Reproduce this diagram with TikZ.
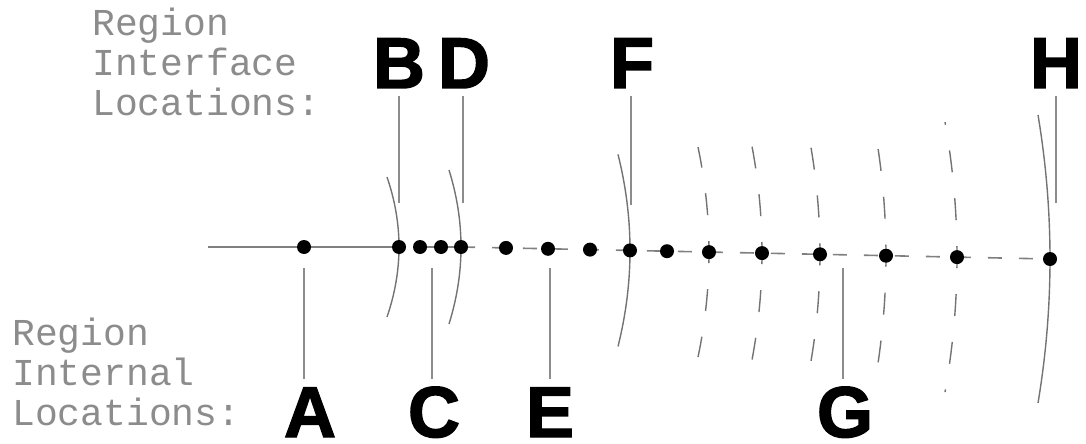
\documentclass[tikz,border=0pt]{standalone}
\usepackage{fontspec}
\newfontfamily\labelfont[FakeBold=2]{Liberation Sans Bold}
\newfontfamily\cadfont{Liberation Mono}
\newcommand\bulgearc[5]{%
  \draw[#5] (#1,#2) .. controls (#1,{#2-#3/3}) and ({#1-#4/3},{#2-2*#3/3}) .. ({#1-#4},{#2-#3});
  \draw[#5] (#1,#2) .. controls (#1,{#2+#3/3}) and ({#1-#4/3},{#2+2*#3/3}) .. ({#1-#4},{#2+#3});
}
\tikzset{
  dot/.style={circle,fill=black,inner sep=0pt,minimum size=14pt},
  mainsolid/.style={line width=1.6pt,draw=black!50},
  maindash/.style={line width=1.6pt,draw=black!50,dash pattern=on 14pt off 17pt},
  arcsolid/.style={line width=1.4pt,draw=black!55},
  arcdash/.style={line width=1.4pt,draw=black!55,dash pattern=on 22pt off 26pt,dash phase=11pt},
  lead/.style={line width=2pt,draw=black!45},
  letter/.style={font=\labelfont\fontsize{72}{72}\selectfont,inner sep=0pt,outer sep=8pt,anchor=base},
  cadtext/.style={font=\cadfont\fontsize{38}{40}\selectfont,text=black!45,align=left,inner sep=0pt,anchor=base west},
}
\begin{document}
\begin{tikzpicture}[x=1pt,y=-1pt]
\useasboundingbox (0,0) rectangle (1086,444);
% dot positions
\coordinate (p0) at (208,247);
\coordinate (p1) at (304,247);
\coordinate (p2) at (399,247);
\coordinate (p3) at (420,247);
\coordinate (p4) at (441,247);
\coordinate (p5) at (461,247);
\coordinate (p6) at (506,247.9);
\coordinate (p7) at (548,248.8);
\coordinate (p8) at (590,249.6);
\coordinate (p9) at (630,250.4);
\coordinate (p10) at (667,251.2);
\coordinate (p11) at (709,252.1);
\coordinate (p12) at (762,253.1);
\coordinate (p13) at (820,254.3);
\coordinate (p14) at (886,255.7);
\coordinate (p15) at (957,257.1);
\coordinate (p16) at (1050,259);
% main line
\draw[mainsolid] (p0) -- (p2);
\draw[mainsolid] (p3) -- (p5);
\draw[maindash] (p5) -- (p16);
% interface arcs
\bulgearc{399}{247}{70}{12}{arcsolid}
\bulgearc{461}{247}{77}{12}{arcsolid}
\bulgearc{630}{250.4}{96}{12}{arcsolid}
\bulgearc{709}{252.1}{105}{11}{arcdash}
\bulgearc{762}{253.1}{112}{11}{arcdash}
\bulgearc{820}{254.3}{118}{11}{arcdash}
\bulgearc{886}{255.7}{126}{11}{arcdash}
\bulgearc{957}{257.1}{135}{12}{arcdash}
\bulgearc{1050}{259}{144}{12}{arcsolid}
% dots
\foreach \i in {1,...,16} \node[dot] (d\i) at (p\i) {};
% labels
\node[letter] (lB) at (399,88) {B};
\node[letter] (lD) at (464,88) {D};
\node[letter] (lF) at (632,88) {F};
\node[letter] (lH) at (1056,88) {H};
\node[letter] (lA) at (310,437) {A};
\node[letter] (lC) at (434,437) {C};
\node[letter] (lE) at (550,437) {E};
\node[letter] (lG) at (845,437) {G};
% leader ends
\coordinate (eB) at (399,203);
\coordinate (eD) at (463,203);
\coordinate (eF) at (631,205);
\coordinate (eH) at (1056,203);
\coordinate (eA) at (304,268);
\coordinate (eC) at (432,268);
\coordinate (eE) at (550,268);
\coordinate (eG) at (843,268);
\draw[lead] (eB |- lB.south) -- (eB);
\draw[lead] (eD |- lD.south) -- (eD);
\draw[lead] (eF |- lF.south) -- (eF);
\draw[lead] (eH |- lH.south) -- (eH);
\draw[lead] (eA) -- (eA |- lA.north);
\draw[lead] (eC) -- (eC |- lC.north);
\draw[lead] (eE) -- (eE |- lE.north);
\draw[lead] (eG) -- (eG |- lG.north);
% side texts
\node[cadtext] (ti) at (92,115) {Region\\Interface\\Locations:};
\node[cadtext] (tl) at (12,425) {Region\\Internal\\Locations:};
\end{tikzpicture}
\end{document}
